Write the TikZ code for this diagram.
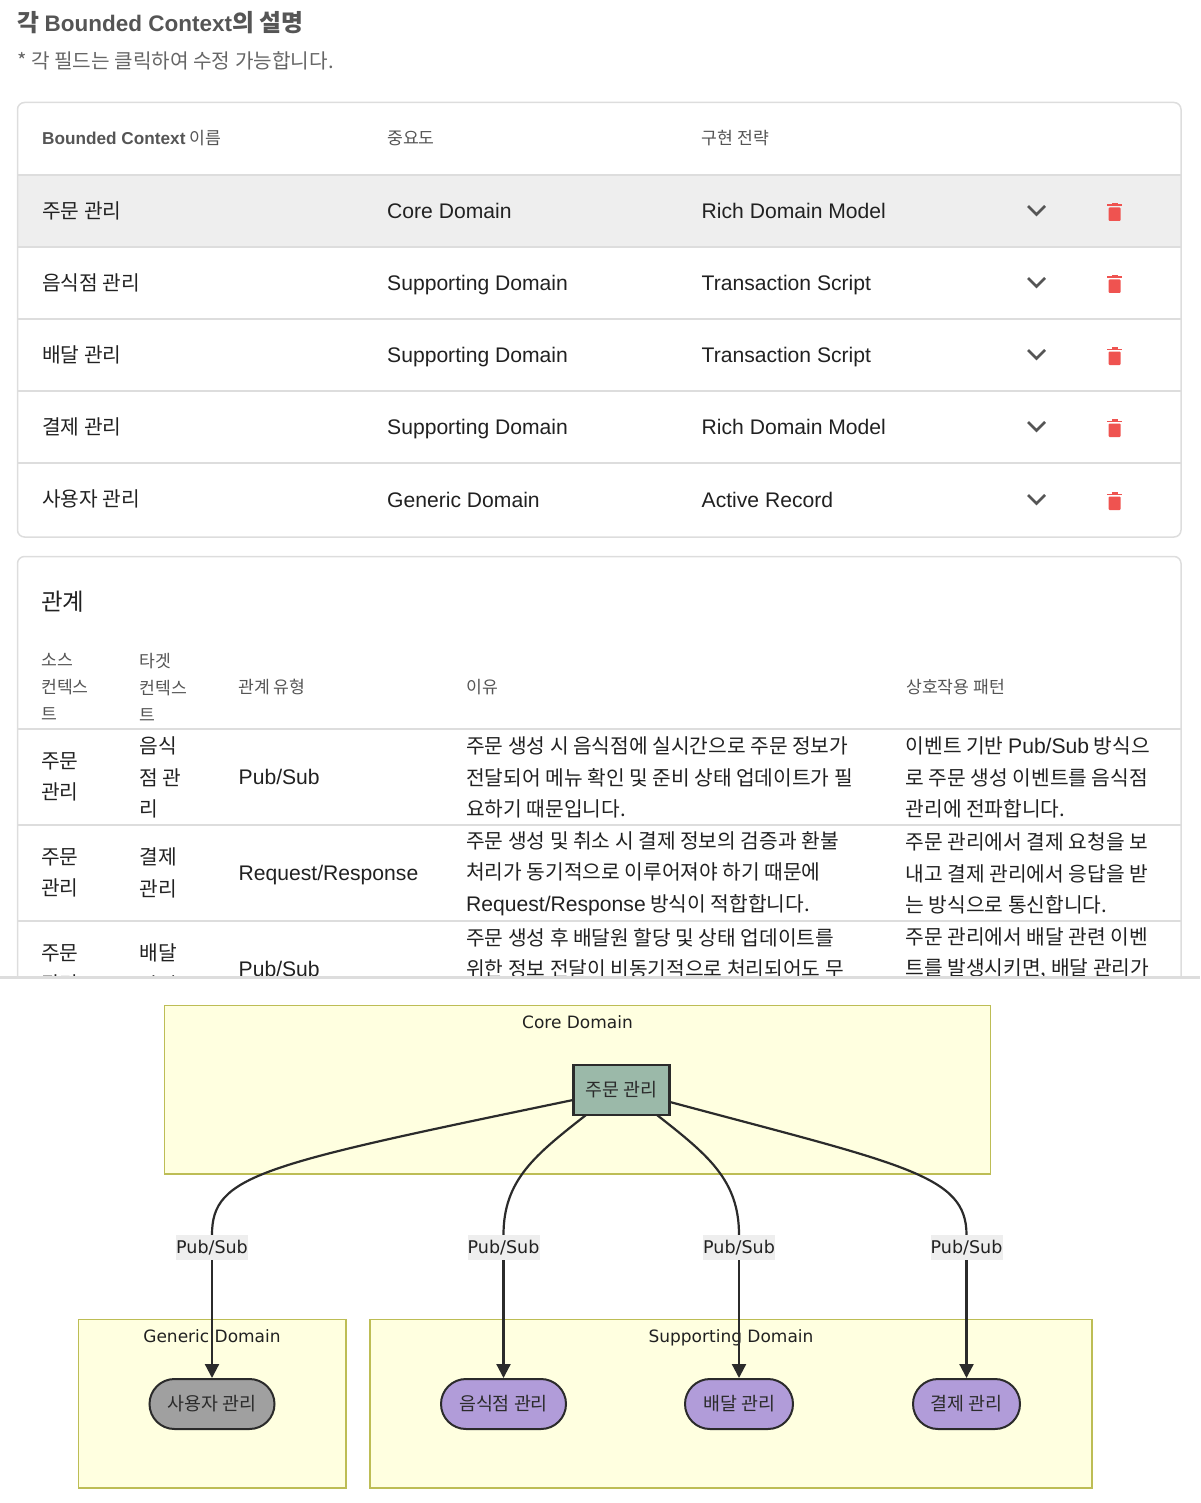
\documentclass[tikz,border=0pt]{standalone}
\usepackage{fontspec}
\usetikzlibrary{arrows.meta}
\setmainfont{Noto Sans CJK KR}
\newfontfamily\latinFont[Scale=1.04]{Liberation Sans}
\newfontfamily\headFont{Liberation Sans}
\newfontfamily\chartFont{DejaVu Sans}
\newcommand{\lat}[1]{{\latinFont #1}}
\definecolor{panelLine}{HTML}{DDDDDD}
\definecolor{rowGray}{HTML}{EEEEEE}
\definecolor{headText}{HTML}{555555}
\definecolor{bodyText}{HTML}{212121}
\definecolor{trashRed}{HTML}{EF5350}
\definecolor{groupFill}{HTML}{FFFFE0}
\definecolor{groupLine}{HTML}{BDBD55}
\definecolor{coreFill}{HTML}{9BB9A9}
\definecolor{genericFill}{HTML}{A0A0A0}
\definecolor{supportFill}{HTML}{B19CD9}
\definecolor{edgeDark}{HTML}{2B2B2B}
\tikzset{
  headcell/.style={anchor=west, inner sep=0pt, text=headText, align=left, font=\fontsize{17.2}{27}\selectfont},
  bodycell/.style={anchor=west, inner sep=0pt, text=bodyText, align=left, font=\fontsize{20.3}{31.5}\selectfont},
  groupbox/.style={draw=groupLine, fill=groupFill, line width=1.2pt},
  grouptitle/.style={inner sep=0pt, text=bodyText, font=\chartFont\fontsize{17}{20}\selectfont},
  ctxnode/.style={draw=edgeDark, line width=2pt, text=edgeDark, inner sep=0pt, minimum height=50pt, font=\fontsize{18.4}{20}\selectfont},
  pillnode/.style={ctxnode, rounded corners=25pt},
  edgelabel/.style={fill=rowGray, inner sep=0pt, minimum width=72pt, minimum height=25pt, text=bodyText, font=\chartFont\fontsize{17.5}{20}\selectfont},
  edgeline/.style={draw=edgeDark, line width=2.2pt},
  edgearrow/.style={edgeline, -{Triangle[length=14pt,width=14pt]}},
}
\begin{document}
\begin{tikzpicture}[x=1pt,y=-1pt]
\useasboundingbox (0,0) rectangle (1200,1503);

\node [anchor=west, inner sep=0pt, text=headText, font=\bfseries\fontsize{23.8}{26}\selectfont] (pageTitle) at (17, 23) {각 {\headFont\bfseries\fontsize{22.5}{26}\selectfont Bounded Context}의 설명};
\node [anchor=west, inner sep=0pt, text=headText!90, font=\fontsize{20.2}{24}\selectfont] (pageNote) at (17, 61) {* 각 필드는 클릭하여 수정 가능합니다.};

% upper table
\fill [rowGray] (18, 175) rectangle (1181, 247);
\draw [panelLine, line width=1.5pt, rounded corners=7pt] (17.5, 102.5) rectangle (1181, 537);
\foreach \lineY in {175, 247, 319, 391, 463}
  \draw [panelLine, line width=1.5pt] (18, \lineY) -- (1181, \lineY);

\node [headcell] (headName) at (42, 138) {{\headFont\bfseries Bounded Context} 이름};
\node [headcell] (headLevel) at (387, 138) {중요도};
\node [headcell] (headPlan) at (701.5, 138) {구현 전략};

\node [bodycell] (name1) at (42, 211) {주문 관리};
\node [bodycell] (level1) at (387, 211) {\lat{Core Domain}};
\node [bodycell] (plan1) at (701.5, 211) {\lat{Rich Domain Model}};
\node [bodycell] (name2) at (42, 283) {음식점 관리};
\node [bodycell] (level2) at (387, 285) {\lat{Supporting Domain}};
\node [bodycell] (plan2) at (701.5, 285) {\lat{Transaction Script}};
\node [bodycell] (name3) at (42, 355) {배달 관리};
\node [bodycell] (level3) at (387, 357) {\lat{Supporting Domain}};
\node [bodycell] (plan3) at (701.5, 357) {\lat{Transaction Script}};
\node [bodycell] (name4) at (42, 427) {결제 관리};
\node [bodycell] (level4) at (387, 429) {\lat{Supporting Domain}};
\node [bodycell] (plan4) at (701.5, 427) {\lat{Rich Domain Model}};
\node [bodycell] (name5) at (42, 499) {사용자 관리};
\node [bodycell] (level5) at (387, 500) {\lat{Generic Domain}};
\node [bodycell] (plan5) at (701.5, 500) {\lat{Active Record}};

\foreach \rowY in {211, 283, 355, 427, 500} {
  \draw [headText, line width=2.6pt] (1028, \rowY-5) -- (1036.5, \rowY+3.5) -- (1045, \rowY-5);
  \fill [trashRed, rounded corners=1pt] (1108.5, \rowY-3.5) rectangle (1120.5, \rowY+10);
  \fill [trashRed] (1107, \rowY-6.5) rectangle (1122, \rowY-4.8);
  \fill [trashRed] (1111.5, \rowY-8) rectangle (1117.5, \rowY-6);
}

% lower table, cut off by the chart
\begin{scope}
\clip (0, 0) rectangle (1200, 976);
\draw [panelLine, line width=1.5pt, rounded corners=7pt] (17.5, 556.5) rectangle (1181, 1100);
\foreach \lineY in {729, 825, 921}
  \draw [panelLine, line width=1.5pt] (18, \lineY) -- (1181, \lineY);

\node [anchor=west, inner sep=0pt, text=bodyText, font=\fontsize{23.5}{28}\selectfont] (relTitle) at (41, 602) {관계};
\node [headcell] (headSource) at (41, 687) {소스\\컨텍스\\트};
\node [headcell] (headTarget) at (139.5, 687) {타겟\\컨텍스\\트};
\node [headcell] (headType) at (238, 687) {관계 유형};
\node [headcell] (headWhy) at (466, 687) {이유};
\node [headcell] (headPattern) at (906, 687) {상호작용 패턴};

\node [bodycell] (src1) at (41, 777) {주문\\관리};
\node [bodycell] (dst1) at (139.5, 777.5) {음식\\점 관\\리};
\node [bodycell] (type1) at (238.5, 777) {\lat{Pub/Sub}};
\node [bodycell] (why1) at (466, 777.5) {주문 생성 시 음식점에 실시간으로 주문 정보가\\전달되어 메뉴 확인 및 준비 상태 업데이트가 필\\요하기 때문입니다.};
\node [bodycell] (how1) at (905.5, 777.5) {이벤트 기반 \lat{Pub/Sub} 방식으\\로 주문 생성 이벤트를 음식점\\관리에 전파합니다.};

\node [bodycell] (src2) at (41, 873) {주문\\관리};
\node [bodycell] (dst2) at (139.5, 873) {결제\\관리};
\node [bodycell] (type2) at (238.5, 875) {\lat{Request/Response}};
\node [bodycell] (why2) at (466, 873.5) {주문 생성 및 취소 시 결제 정보의 검증과 환불\\처리가 동기적으로 이루어져야 하기 때문에\\\lat{Request/Response} 방식이 적합합니다.};
\node [bodycell] (how2) at (905.5, 873.5) {주문 관리에서 결제 요청을 보\\내고 결제 관리에서 응답을 받\\는 방식으로 통신합니다.};

\node [bodycell] (src3) at (41, 969) {주문\\관리};
\node [bodycell] (dst3) at (139.5, 969) {배달\\관리};
\node [bodycell] (type3) at (238.5, 969) {\lat{Pub/Sub}};
\node [bodycell] (why3) at (466, 953.5) {주문 생성 후 배달원 할당 및 상태 업데이트를\\위한 정보 전달이 비동기적으로 처리되어도 무};
\node [bodycell] (how3) at (905.5, 953.5) {주문 관리에서 배달 관련 이벤\\트를 발생시키면, 배달 관리가};
\end{scope}
\fill [panelLine] (0, 976) rectangle (1200, 979);

% chart
\draw [groupbox] (164.5, 1005.5) rectangle (990.5, 1174);
\draw [groupbox] (78.5, 1319.5) rectangle (346, 1488);
\draw [groupbox] (370, 1319.5) rectangle (1092, 1488);
\node [grouptitle] (coreTitle) at (577.5, 1022) {Core Domain};
\node [grouptitle] (genericTitle) at (212, 1336) {Generic Domain};
\node [grouptitle] (supportTitle) at (731, 1338) {Supporting Domain};

\node [ctxnode, fill=coreFill, line width=2.5pt, minimum width=96pt] (orderCtx) at (621.5, 1090) {주문 관리};
\node [pillnode, fill=genericFill, minimum width=125pt] (userCtx) at (212, 1404) {사용자 관리};
\node [pillnode, fill=supportFill, minimum width=125pt] (shopCtx) at (503.5, 1404) {음식점 관리};
\node [pillnode, fill=supportFill, minimum width=108pt] (deliveryCtx) at (739, 1404) {배달 관리};
\node [pillnode, fill=supportFill, minimum width=107pt] (payCtx) at (966.5, 1404) {결제 관리};

\node [edgelabel] (userLabel) at (212, 1247.5) {Pub/Sub};
\node [edgelabel] (shopLabel) at (503.5, 1247.5) {Pub/Sub};
\node [edgelabel] (deliveryLabel) at (739, 1247.5) {Pub/Sub};
\node [edgelabel] (payLabel) at (966.5, 1247.5) {Pub/Sub};

\coordinate (orderLeft) at (573, 1100);
\coordinate (orderRight) at (670, 1102);
\coordinate (orderSouthL) at (586, 1115);
\coordinate (orderSouthR) at (657, 1115);

\draw [edgeline] (orderLeft) .. controls (260, 1165) and (212, 1175) .. (userLabel.north);
\draw [edgeline] (orderSouthL) .. controls (535, 1155) and (503.5, 1180) .. (shopLabel.north);
\draw [edgeline] (orderSouthR) .. controls (708, 1155) and (739, 1180) .. (deliveryLabel.north);
\draw [edgeline] (orderRight) .. controls (905, 1165) and (966.5, 1175) .. (payLabel.north);

\draw [edgearrow] (userLabel.south) to (userCtx.north);
\draw [edgearrow] (shopLabel.south) to (shopCtx.north);
\draw [edgearrow] (deliveryLabel.south) to (deliveryCtx.north);
\draw [edgearrow] (payLabel.south) to (payCtx.north);
\end{tikzpicture}
\end{document}
